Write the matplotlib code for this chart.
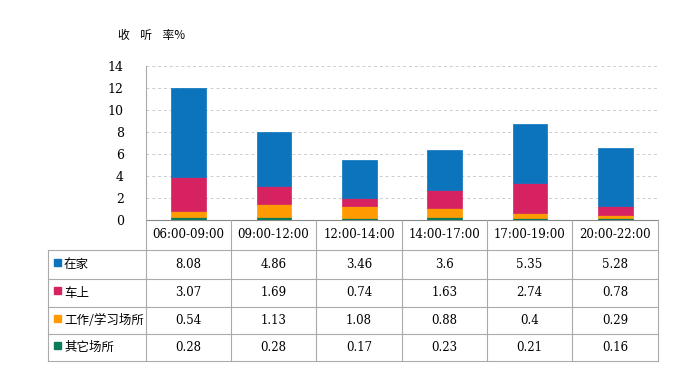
import matplotlib
matplotlib.use("Agg")
import matplotlib.pyplot as plt
from matplotlib.patches import Rectangle
import numpy as np

plt.rcParams['font.family'] = ['DejaVu Serif', 'Noto Sans CJK SC']

categories = ["06:00-09:00", "09:00-12:00", "12:00-14:00", "14:00-17:00", "17:00-19:00", "20:00-22:00"]
series_names = ["在家", "车上", "工作/学习场所", "其它场所"]
home = [8.08, 4.86, 3.46, 3.6, 5.35, 5.28]
car = [3.07, 1.69, 0.74, 1.63, 2.74, 0.78]
work = [0.54, 1.13, 1.08, 0.88, 0.4, 0.29]
other = [0.28, 0.28, 0.17, 0.23, 0.21, 0.16]
colors = ["#0B74BD", "#D72262", "#FF9A00", "#0A7C5C"]
yticks = [0, 2, 4, 6, 8, 10, 12, 14]

W, H = 700, 384
fig = plt.figure(figsize=(7, 3.84), dpi=100)

def fx(px):
    return px / W

def fy(py):
    return 1 - py / H

ax = fig.add_axes([fx(146), fy(220), fx(658) - fx(146), fy(66) - fy(220)])
x = np.arange(len(categories))
bw = 0.41
stack_order = [(other, colors[3]), (work, colors[2]), (car, colors[1]), (home, colors[0])]
bottom = np.zeros(len(categories))
for vals, c in stack_order:
    v = np.array(vals)
    ax.bar(x, v, bw, bottom=bottom, color=c, edgecolor=c, linewidth=0.5, zorder=3)
    bottom += v

ax.set_xlim(-0.5, len(categories) - 0.5)
ax.set_ylim(0, 14)
ax.set_yticks(yticks)
ax.set_yticklabels([str(t) for t in yticks], fontsize=9)
ax.set_xticks([])
for t in yticks[1:]:
    ax.axhline(t, color="#cccccc", linestyle=(0, (3, 3)), linewidth=0.7, zorder=1)
for s in ["top", "right"]:
    ax.spines[s].set_visible(False)
ax.spines["left"].set_color("#aaaaaa")
ax.spines["bottom"].set_color("#888888")
ax.tick_params(axis="y", length=0, pad=16)

fig.text(fx(118), fy(35), "收    听    率%", fontsize=8.5, va="center", ha="left",
         family=['Noto Sans CJK SC', 'DejaVu Sans'])

# table
tab = fig.add_axes([0, 0, 1, 1])
tab.set_xlim(0, W)
tab.set_ylim(H, 0)
tab.axis("off")
col_edges = [146, 231, 316, 402, 487, 572, 658]
row_edges = [220, 250, 279, 307, 334, 361]
lc = "#aaaaaa"
for xe in col_edges:
    tab.plot([xe, xe], [row_edges[0], row_edges[-1]], color=lc, lw=0.8)
tab.plot([48, 48], [row_edges[1], row_edges[-1]], color=lc, lw=0.8)
for ye in row_edges[1:]:
    tab.plot([48, 658], [ye, ye], color=lc, lw=0.8)

for i, cat in enumerate(categories):
    cx = (col_edges[i] + col_edges[i + 1]) / 2
    tab.text(cx, (row_edges[0] + row_edges[1]) / 2, cat, ha="center", va="center", fontsize=8.5)

data_rows = [home, car, work, other]
for r, (name, vals) in enumerate(zip(series_names, data_rows)):
    cy = (row_edges[r + 1] + row_edges[r + 2]) / 2
    tab.add_patch(Rectangle((54, cy - 6), 7, 7, color=colors[r]))
    tab.text(64, cy, name, ha="left", va="center", fontsize=9,
             family=['Noto Sans CJK SC', 'DejaVu Sans'])
    for i, v in enumerate(vals):
        cx = (col_edges[i] + col_edges[i + 1]) / 2
        tab.text(cx, cy, f"{v:g}", ha="center", va="center", fontsize=8.5)

fig.savefig("out.png", dpi=100)
